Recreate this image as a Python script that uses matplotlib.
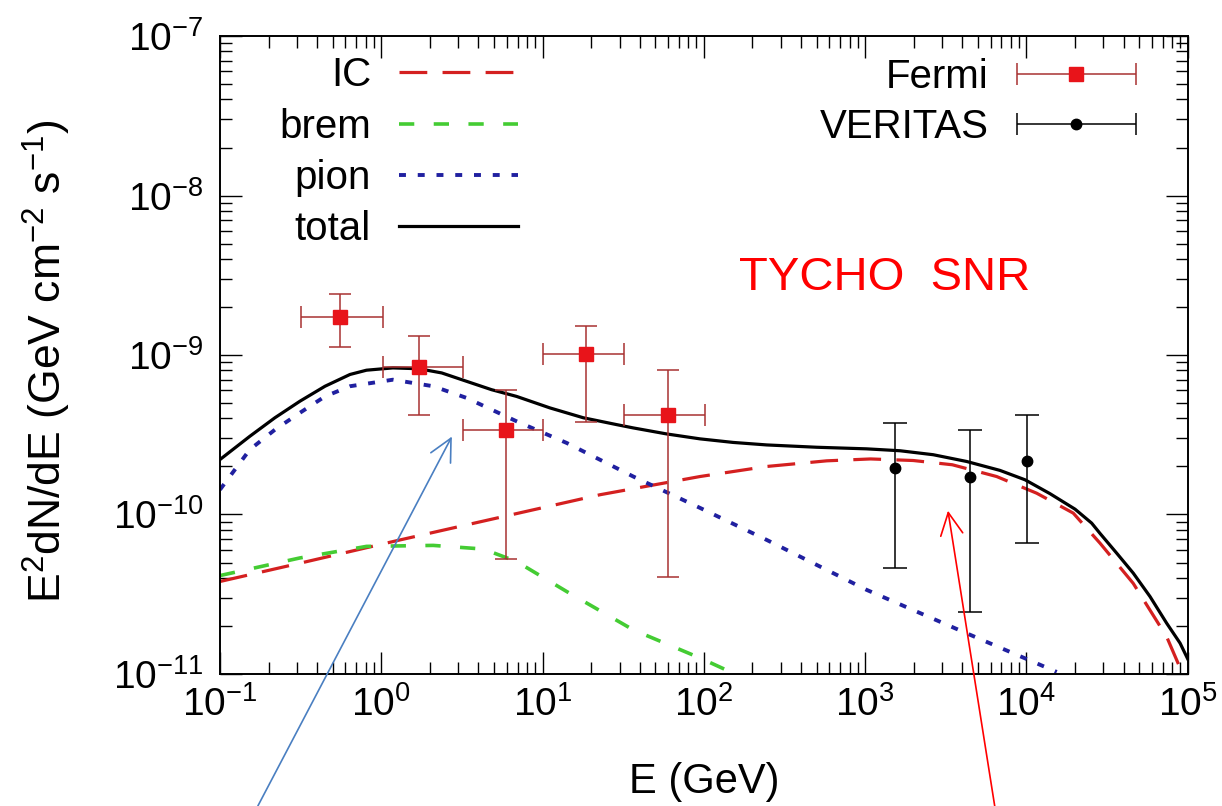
import numpy as np
import matplotlib
matplotlib.use("Agg")
import matplotlib.pyplot as plt
from matplotlib.ticker import LogLocator, NullFormatter, LogFormatterMathtext
from matplotlib.legend_handler import HandlerErrorbar
from matplotlib.patches import ConnectionPatch

plt.rcParams['font.family'] = ['Liberation Sans', 'DejaVu Sans']
plt.rcParams['mathtext.fontset'] = 'custom'
plt.rcParams['mathtext.rm'] = 'Liberation Sans'
plt.rcParams['mathtext.it'] = 'Liberation Sans:italic'
plt.rcParams['mathtext.bf'] = 'Liberation Sans:bold'
plt.rcParams['lines.scale_dashes'] = False

# ---------------- data ----------------
total_E = [0.1, 0.153, 0.219, 0.313, 0.448, 0.64, 0.81, 1.18, 1.71, 2.37, 3.38, 4.83, 6.9,
           11.1, 17.9, 28.8, 36.5, 58.7, 94.6, 152, 245, 500, 1020, 1643, 2642, 4256,
           6850, 9800, 14000, 20000, 25350, 28600, 36200, 45900, 58300, 74000, 89600, 1e5]
total_F = [2.21e-10, 3.09e-10, 4.04e-10, 5.13e-10, 6.37e-10, 7.55e-10, 8.03e-10, 8.3e-10,
           8.2e-10, 7.72e-10, 6.84e-10, 6.06e-10, 5.5e-10, 4.66e-10, 4.04e-10, 3.66e-10,
           3.49e-10, 3.2e-10, 2.98e-10, 2.83e-10, 2.73e-10, 2.64e-10, 2.58e-10, 2.51e-10,
           2.37e-10, 2.15e-10, 1.89e-10, 1.65e-10, 1.35e-10, 1.08e-10, 8.83e-11, 7.6e-11,
           5.73e-11, 4.29e-11, 3.06e-11, 2.08e-11, 1.56e-11, 1.24e-11]

ic_E = [0.1, 0.313, 1.31, 5.45, 22.7, 94.6, 245, 578, 1080, 1986, 3470, 6530,
        11560, 19500, 28600, 45900, 74000, 93000]
ic_F = [3.8e-11, 4.95e-11, 6.93e-11, 9.6e-11, 1.33e-10, 1.73e-10, 2.0e-10, 2.17e-10,
        2.23e-10, 2.18e-10, 2.05e-10, 1.73e-10, 1.36e-10, 1.02e-10, 6.6e-11, 3.7e-11,
        1.71e-11, 1.0e-11]

brem_E = [0.1, 0.313, 0.81, 2.1, 4.3, 6.9, 14.1, 36.5, 94.6, 156]
brem_F = [4.14e-11, 5.34e-11, 6.31e-11, 6.4e-11, 6.07e-11, 5.07e-11, 3.29e-11,
          1.89e-11, 1.26e-11, 1.0e-11]

pion_E = [0.1, 0.153, 0.219, 0.313, 0.448, 0.64, 1.18, 2.1, 3.38, 6.9, 14.1, 36.5, 94.6,
          245, 1020, 4250, 15400]
pion_F = [1.43e-10, 2.55e-10, 3.4e-10, 4.34e-10, 5.5e-10, 6.37e-10, 7.0e-10, 6.37e-10,
          5.38e-10, 3.84e-10, 2.81e-10, 1.73e-10, 1.1e-10, 6.93e-11, 3.37e-11, 1.8e-11,
          1.03e-11]

fermi_E = [0.555, 1.71, 5.96, 18.7, 60.1]
fermi_F = [1.72e-9, 8.43e-10, 3.37e-10, 1.01e-9, 4.19e-10]
fermi_Elo = [0.32, 1.02, 3.22, 10.1, 32.0]
fermi_Ehi = [1.02, 3.22, 10.06, 32.0, 101.6]
fermi_Flo = [1.13e-9, 4.21e-10, 5.25e-11, 3.79e-10, 4.08e-11]
fermi_Fhi = [2.4e-9, 1.31e-9, 6.06e-10, 1.52e-9, 8.04e-10]

veritas_E = [1531, 4467, 10020]
veritas_F = [1.96e-10, 1.72e-10, 2.15e-10]
veritas_Flo = [4.62e-11, 2.43e-11, 6.62e-11]
veritas_Fhi = [3.77e-10, 3.39e-10, 4.23e-10]

x_ticks = [1e-1, 1e0, 1e1, 1e2, 1e3, 1e4, 1e5]
y_ticks = [1e-11, 1e-10, 1e-9, 1e-8, 1e-7]
x_limits = [1e-1, 1e5]
y_limits = [1e-11, 1e-7]

# ---------------- figure ----------------
fig = plt.figure(figsize=(12.22, 8.06), dpi=100)
ax = fig.add_axes([0.180, 0.1638, 0.792, 0.7915])
ax.set_xscale('log')
ax.set_yscale('log')

lic, = ax.plot(ic_E, ic_F, color='#d42020', lw=2.3, dashes=(20, 11), label='IC')
lbr, = ax.plot(brem_E, brem_F, color='#44cc33', lw=2.6, dashes=(11, 14), label='brem')
lpi, = ax.plot(pion_E, pion_F, color='#2020a0', lw=2.8, dashes=(5, 8.5), label='pion')
ltot, = ax.plot(total_E, total_F, color='black', lw=2.3, label='total')

fE = np.array(fermi_E); fF = np.array(fermi_F)
xerr = [fE - np.array(fermi_Elo), np.array(fermi_Ehi) - fE]
yerr = [fF - np.array(fermi_Flo), np.array(fermi_Fhi) - fF]
ax.errorbar(fE, fF, xerr=xerr, yerr=yerr, fmt='s', ms=10, color='#e8141a',
            ecolor='#a83232', elinewidth=1.1, capsize=8, capthick=1.1, zorder=4)

vE = np.array(veritas_E); vF = np.array(veritas_F)
vyerr = [vF - np.array(veritas_Flo), np.array(veritas_Fhi) - vF]
ax.errorbar(vE, vF, yerr=vyerr, fmt='o', ms=7.5, color='black',
            ecolor='black', elinewidth=1.1, capsize=8.5, capthick=1.1, zorder=4)

# legend proxies (horizontal error bars as in the reference key)
pf = ax.errorbar([np.nan], [np.nan], xerr=[np.nan], fmt='s', ms=10, color='#e8141a',
                 ecolor='#a83232', elinewidth=1.1, capsize=8, capthick=1.1)
pv = ax.errorbar([np.nan], [np.nan], xerr=[np.nan], fmt='o', ms=7.5, color='black',
                 ecolor='black', elinewidth=1.1, capsize=8, capthick=1.1)

# ticks (only in-range majors)
ax.set_xticks(x_ticks)
ax.set_yticks(y_ticks)
for axis in (ax.xaxis, ax.yaxis):
    axis.set_minor_locator(LogLocator(base=10, subs=np.arange(2, 10), numticks=200))
    axis.set_minor_formatter(NullFormatter())
    axis.set_major_formatter(LogFormatterMathtext())
ax.set_xlim(*x_limits)
ax.set_ylim(*y_limits)
ax.tick_params(which='both', direction='in', top=True, right=True, width=1.0)
ax.tick_params(which='major', length=16, labelsize=28)
ax.tick_params(axis='x', which='major', pad=9)
ax.tick_params(axis='y', which='major', pad=12)
ax.tick_params(which='minor', length=8.5)
for s in ax.spines.values():
    s.set_linewidth(1.4)

ax.set_xlabel('E (GeV)', fontsize=30)
ax.set_ylabel('E$^2$dN/dE (GeV cm$^{-2}$ s$^{-1}$)', fontsize=32)
ax.xaxis.set_label_coords(0.5, -0.138)
ax.yaxis.set_label_coords(-0.152, 0.49)

leg1 = ax.legend(handles=[lic, lbr, lpi, ltot], loc='upper right',
                 bbox_to_anchor=(0.308, 0.968), frameon=False, markerfirst=False,
                 fontsize=29, handlelength=2.95, handletextpad=0.7, labelspacing=0.33,
                 borderpad=0, borderaxespad=0)
ax.add_artist(leg1)
leg2 = ax.legend(handles=[pf, pv], labels=['Fermi', 'VERITAS'], loc='upper right',
                 bbox_to_anchor=(0.9463, 0.966), frameon=False, markerfirst=False,
                 fontsize=29, handlelength=2.95, handletextpad=0.7, labelspacing=0.31,
                 borderpad=0, borderaxespad=0, numpoints=1,
                 handler_map={type(pf): HandlerErrorbar(xerr_size=1.47, numpoints=1)})

ax.text(0.536, 0.602, 'TYCHO  SNR', transform=ax.transAxes, ha='left', va='baseline',
        color='red', fontsize=34)

# pointer arrows from below the plot
arrow_specs = [((0.211, 0.0), (2.74, 3.08e-10), '#4a7fc1'),
               ((0.814, 0.0), (3260, 1.056e-10), 'red')]
for tail, tip, col in arrow_specs:
    cp = ConnectionPatch(xyA=tail, coordsA='figure fraction', xyB=tip, coordsB=ax.transData,
                         arrowstyle='->,head_length=1.6,head_width=0.8', mutation_scale=10,
                         color=col, lw=1.2, shrinkA=0, shrinkB=0, zorder=10)
    cp.set_clip_on(False)
    fig.add_artist(cp)

fig.savefig('out.png', dpi=100)
